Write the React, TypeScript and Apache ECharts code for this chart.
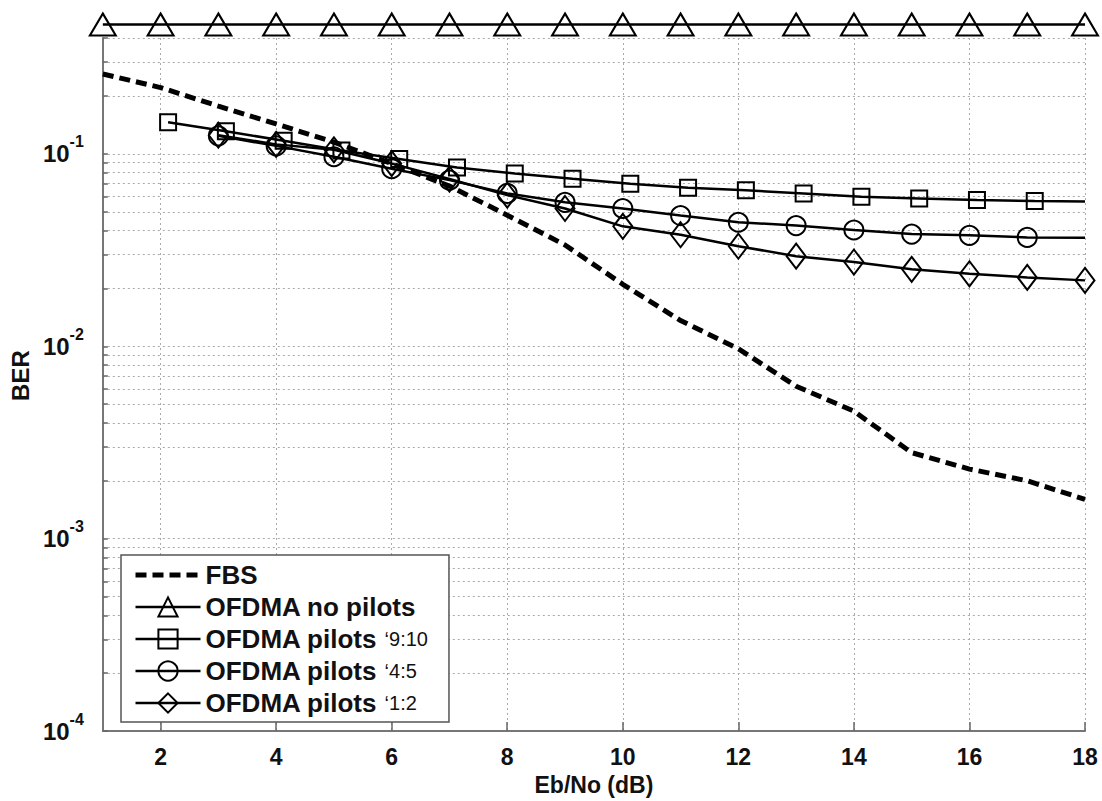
import React, { useEffect, useRef } from 'react';
import * as echarts from 'echarts';

// ---- data ----
const ebNo = [1, 2, 3, 4, 5, 6, 7, 8, 9, 10, 11, 12, 13, 14, 15, 16, 17, 18];
const fbsBer = [0.26, 0.221, 0.177, 0.143, 0.115, 0.089, 0.068, 0.048, 0.0336, 0.021, 0.0136, 0.0097, 0.0062, 0.0046, 0.0028, 0.0023, 0.002, 0.0016];
const noPilotsBer = [0.47, 0.47, 0.47, 0.47, 0.47, 0.47, 0.47, 0.47, 0.47, 0.47, 0.47, 0.47, 0.47, 0.47, 0.47, 0.47, 0.47, 0.47];
const pilots910X = [2.13, 3.13, 4.13, 5.13, 6.13, 7.13, 8.13, 9.13, 10.13, 11.13, 12.13, 13.13, 14.13, 15.13, 16.13, 17.13, 18];
const pilots910Ber = [0.146, 0.131, 0.117, 0.104, 0.094, 0.085, 0.079, 0.0743, 0.07, 0.0666, 0.0647, 0.0622, 0.0598, 0.0586, 0.0575, 0.0569, 0.0566];
const pilots45X = [3, 4, 5, 6, 7, 8, 9, 10, 11, 12, 13, 14, 15, 16, 17, 18];
const pilots45Ber = [0.124, 0.11, 0.0966, 0.0837, 0.073, 0.0623, 0.056, 0.052, 0.0478, 0.0441, 0.0424, 0.0402, 0.0383, 0.0377, 0.0368, 0.0366];
const pilots12X = [3, 4, 5, 6, 7, 8, 9, 10, 11, 12, 13, 14, 15, 16, 17, 18];
const pilots12Ber = [0.125, 0.112, 0.105, 0.089, 0.074, 0.061, 0.052, 0.042, 0.038, 0.0331, 0.0294, 0.0274, 0.0251, 0.0238, 0.0228, 0.022];

const xTickValues = [2, 4, 6, 8, 10, 12, 14, 16, 18];
const yLabelValues = [0.0001, 0.001, 0.01, 0.1];
const yGridValues = [
  0.0001, 0.0002, 0.0003, 0.0004, 0.0005, 0.0006, 0.0007, 0.0008, 0.0009,
  0.001, 0.002, 0.003, 0.004, 0.005, 0.006, 0.007, 0.008, 0.009,
  0.01, 0.02, 0.03, 0.04, 0.05, 0.06, 0.07, 0.08, 0.09,
  0.1, 0.2, 0.3, 0.4,
];

const seriesNames = ['FBS', 'OFDMA no pilots', 'OFDMA pilots 9:10', 'OFDMA pilots 4:5', 'OFDMA pilots 1:2'];

const FONT = '"Liberation Sans", Arial, Helvetica, sans-serif';

function pairs(xs: number[], ys: number[], lastNoMarker = false) {
  return ys.map((y, i) => {
    const item: any = { value: [xs[i], y] };
    if (lastNoMarker && i === ys.length - 1) item.symbol = 'none';
    return item;
  });
}

export default function App() {
  const ref = useRef<HTMLDivElement>(null);

  useEffect(() => {
    if (!ref.current) return;
    const chart = echarts.init(ref.current, undefined, { renderer: 'svg' });

    const markerStyle = { color: 'transparent', borderColor: '#000', borderWidth: 2 };
    const solidLine = { color: '#000', width: 2.5 };
    const fbsLine = { color: '#000', width: 5, type: [11, 6] };

    const option: any = {
      animation: false,
      backgroundColor: '#fff',
      grid: { left: 99, right: 17, top: 38, bottom: 63 },
      xAxis: {
        type: 'value',
        min: 1,
        max: 18,
        name: 'Eb/No (dB)',
        nameLocation: 'middle',
        nameGap: 41,
        nameTextStyle: { fontSize: 23, fontWeight: 'bold', color: '#111', fontFamily: FONT },
        axisLine: { show: true, lineStyle: { color: '#777', width: 2 } },
        axisTick: { show: true, inside: true, length: 9, customValues: xTickValues, lineStyle: { color: '#666', width: 1.5 } },
        axisLabel: { customValues: xTickValues, fontSize: 23, fontWeight: 'bold', color: '#111', margin: 14, fontFamily: FONT },
        splitLine: { show: true, lineStyle: { color: '#aaa', type: [2, 3], width: 1 } },
      },
      yAxis: {
        type: 'log',
        logBase: 10,
        min: 0.0001,
        max: 0.4,
        name: 'BER',
        nameLocation: 'middle',
        nameGap: 68,
        nameTextStyle: { fontSize: 24, fontWeight: 'bold', color: '#111', fontFamily: FONT, padding: [0, 0, 0, 18] },
        axisLine: { show: true, lineStyle: { color: '#777', width: 2 } },
        axisTick: { show: true, inside: true, length: 5, customValues: yGridValues, lineStyle: { color: '#666', width: 1.5 } },
        axisLabel: {
          customValues: yLabelValues,
          margin: 19,
          formatter: (v: number) => {
            const e = Math.round(Math.log10(v));
            return `{b|10}{sup|${e}}`;
          },
          rich: {
            b: { fontSize: 24, fontWeight: 'bold', color: '#111', fontFamily: FONT, lineHeight: 24 },
            sup: { fontSize: 16, fontWeight: 'bold', color: '#111', fontFamily: FONT, lineHeight: 16, padding: [0, 0, 24, 0] },
          },
        },
        splitLine: { show: true, lineStyle: { color: '#aaa', type: [2, 3], width: 1 } },
        minorTick: { show: false },
        minorSplitLine: { show: false },
      },
      legend: {
        orient: 'vertical',
        left: 121,
        top: 555,
        padding: [7, 21, 6, 12],
        itemWidth: 65,
        itemHeight: 24,
        itemGap: 6,
        borderColor: '#555',
        borderWidth: 1.5,
        backgroundColor: '#fff',
        data: [
          { name: seriesNames[0], lineStyle: { width: 5, type: [11, 6], color: '#000' } },
          { name: seriesNames[1], lineStyle: { width: 2.5, color: '#000' } },
          { name: seriesNames[2], lineStyle: { width: 2.5, color: '#000' } },
          { name: seriesNames[3], lineStyle: { width: 2.5, color: '#000' } },
          { name: seriesNames[4], lineStyle: { width: 2.5, color: '#000' } },
        ],
        formatter: (name: string) => {
          const m = name.match(/^(OFDMA pilots) (\d+:\d+)$/);
          if (m) return `{b|${m[1]} }{s|\u2018${m[2]}}`;
          return `{b|${name}}`;
        },
        textStyle: {
          color: '#111',
          fontFamily: FONT,
          rich: {
            b: { fontSize: 26, fontWeight: 'bold', color: '#111', fontFamily: FONT, lineHeight: 26 },
            s: { fontSize: 20, fontWeight: 'normal', color: '#111', fontFamily: FONT, lineHeight: 26 },
          },
        },
      },
      series: [
        {
          name: seriesNames[0],
          type: 'line',
          data: pairs(ebNo, fbsBer),
          symbol: 'circle',
          showSymbol: false,
          itemStyle: { color: 'transparent', borderWidth: 0 },
          lineStyle: fbsLine,
          z: 3,
        },
        {
          name: seriesNames[1],
          type: 'line',
          data: pairs(ebNo, noPilotsBer),
          symbol: 'triangle',
          symbolSize: [26, 22],
          clip: false,
          itemStyle: markerStyle,
          lineStyle: solidLine,
        },
        {
          name: seriesNames[2],
          type: 'line',
          data: pairs(pilots910X, pilots910Ber, true),
          symbol: 'rect',
          symbolSize: 16,
          itemStyle: markerStyle,
          lineStyle: solidLine,
        },
        {
          name: seriesNames[3],
          type: 'line',
          data: pairs(pilots45X, pilots45Ber, true),
          symbol: 'circle',
          symbolSize: 19,
          itemStyle: markerStyle,
          lineStyle: solidLine,
        },
        {
          name: seriesNames[4],
          type: 'line',
          data: pairs(pilots12X, pilots12Ber),
          symbol: 'diamond',
          symbolSize: [19, 25],
          itemStyle: markerStyle,
          lineStyle: solidLine,
        },
      ],
    };

    chart.setOption(option);
    return () => chart.dispose();
  }, []);

  return (
    <div
      ref={ref}
      style={{ position: 'absolute', left: 0, top: 0, width: 1102, height: 801, background: '#fff' }}
    />
  );
}
